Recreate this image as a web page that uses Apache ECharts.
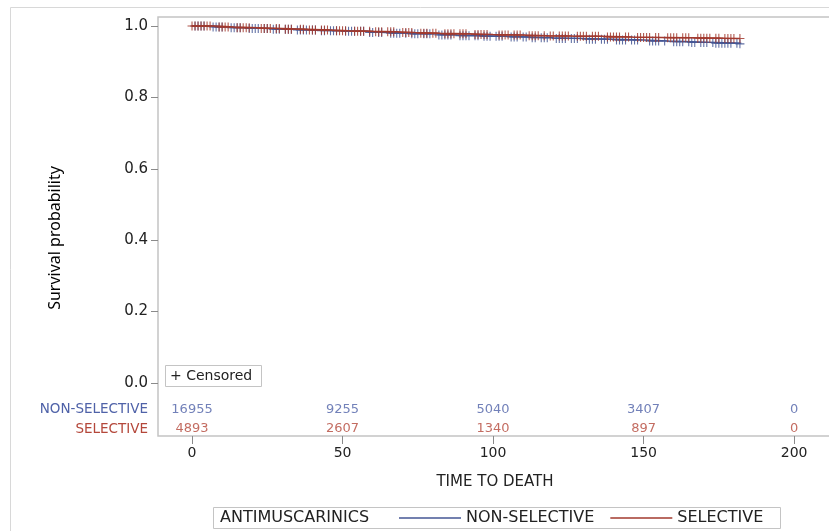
<!DOCTYPE html>
<html>
<head>
<meta charset="utf-8">
<script src="https://cdn.jsdelivr.net/npm/echarts@6/dist/echarts.min.js"></script>
<style>
html,body{margin:0;padding:0;background:#fff;}
#chart{width:829px;height:531px;}
</style>
</head>
<body>
<div id="chart"></div>
<script>
// ---- data ----
const seriesNames = ['NON-SELECTIVE', 'SELECTIVE'];
const legendTitle = 'ANTIMUSCARINICS';
const yTicks = [0, 0.2, 0.4, 0.6, 0.8, 1.0];
const xTicks = [0, 50, 100, 150, 200];
const riskTimes = [0, 50, 100, 150, 200];
const riskNonSelective = [16955, 9255, 5040, 3407, 0];
const riskSelective = [4893, 2607, 1340, 897, 0];

// Kaplan-Meier step curves (event times, survival after event)
const nonSelTimes = [0, 6, 12, 18, 26, 34, 42, 50, 58, 64, 72, 80, 88, 96, 104, 112, 120, 130, 140, 150, 158, 166, 174, 182];
const nonSelSurv  = [1.0, 0.997, 0.995, 0.993, 0.991, 0.989, 0.987, 0.985, 0.982, 0.980, 0.978, 0.975, 0.973, 0.971, 0.969, 0.967, 0.965, 0.963, 0.961, 0.958, 0.956, 0.954, 0.952, 0.950];
const selTimes = [0, 8, 14, 22, 30, 38, 46, 52, 60, 68, 74, 82, 92, 100, 110, 118, 126, 136, 146, 156, 166, 176, 182];
const selSurv  = [1.0, 0.997, 0.995, 0.993, 0.991, 0.989, 0.987, 0.985, 0.984, 0.982, 0.980, 0.978, 0.976, 0.975, 0.973, 0.972, 0.971, 0.969, 0.968, 0.967, 0.966, 0.965, 0.965];

// censoring times
const nonSelCensored = [1,2,3,4, 7,8,9,10, 13,14,15,16, 19,20,21,22, 24,25,27,28,29, 31,32,33, 35,36,37,38, 40,41,43,44, 46,47,48, 51,52,53,54, 56,57,59,60, 62,63, 66,67,68,69, 71,73,74,75, 77,78,79, 82,83,84,85,86, 89,90,91,92, 94,95,97,98,99, 101,102,103, 106,107,108, 110,111,113,114, 116,117,118, 121,122,123,124, 126,127,128, 131,132,133,134, 136,137,138, 141,142,143,144, 146,147,148, 152,153,154,155, 157, 160,161,162,163, 165,166,167, 169,170,171, 173,174,175,176,177,178,179,181,182];
const selCensored = [0,1,2,3,4,5,6, 9,10,11,12, 15,16,17,18,19, 23,24,25,26, 28,29,31,32,33, 36,37,39,40,41, 43,44,45, 48,49,50,51, 54,55,56,57, 59,61,62,63, 65,66,67, 70,71,72,73, 76,77,78, 80,81, 84,85,86,87, 89,90,91, 94,95,96,97,98, 102,103,104,105, 107,108,109, 112,113,114,115, 117,119,120, 122,123,124,125, 128,129,130,131, 133,134,135, 138,139,140,141,142, 144,145, 148,149,150,151,152, 154,155, 158,159,160,161, 163,164,165, 168,169,170,171,172, 174,175,177,178,179,180,182];

// ---- layout / style constants ----
const BLUE = '#445694';
const RED = '#A23A2E';
const BLUE_TXT = '#4f62a8';
const RED_TXT = '#b4473a';
const FONT = '"DejaVu Sans", "Liberation Sans", Arial, sans-serif';
const ROW_Y = [-0.0756, -0.1289]; // y positions (axis units) of number-at-risk rows

function stepValue(times, surv, t) {
  let v = surv[0];
  for (let i = 0; i < times.length; i++) { if (times[i] <= t) v = surv[i]; else break; }
  return v;
}
const plusPath = 'path://M-0.12,-1L0.12,-1L0.12,-0.12L1,-0.12L1,0.12L0.12,0.12L0.12,1L-0.12,1L-0.12,0.12L-1,0.12L-1,-0.12L-0.12,-0.12Z';

const chart = echarts.init(document.getElementById('chart'), null, {renderer: 'canvas'});

const option = {
  animation: false,
  backgroundColor: '#fff',
  grid: {
    left: 158, top: 17, width: 690, height: 419,
    show: true, borderColor: '#c4c4c4', borderWidth: 1.5,
    containLabel: false, outerBoundsMode: 'none'
  },
  xAxis: {
    type: 'value', min: -11.3, max: 217.9,
    name: 'TIME TO DEATH', nameLocation: 'middle', nameGap: 39,
    nameTextStyle: {fontFamily: FONT, fontSize: 15, color: '#222', padding: [0, 16, 0, 0]},
    axisLine: {show: false, onZero: false},
    splitLine: {show: false},
    axisTick: {show: true, length: 8, customValues: xTicks, lineStyle: {color: '#8a8a8a'}},
    axisLabel: {customValues: xTicks, margin: 10, fontFamily: FONT, fontSize: 14, color: '#222'}
  },
  yAxis: {
    type: 'value', min: -0.1485, max: 1.0252,
    axisLine: {show: false, onZero: false},
    splitLine: {show: false},
    axisTick: {show: true, length: 7, customValues: yTicks, lineStyle: {color: '#8a8a8a'}},
    axisLabel: {
      customValues: yTicks.concat(ROW_Y), margin: 10, fontFamily: FONT, fontSize: 15, color: '#222',
      formatter: function (v) {
        if (Math.abs(v - ROW_Y[0]) < 1e-6) return '{b|' + seriesNames[0] + '}';
        if (Math.abs(v - ROW_Y[1]) < 1e-6) return '{r|' + seriesNames[1] + '}';
        return v.toFixed(1);
      },
      rich: {
        b: {color: BLUE_TXT, fontFamily: FONT, fontSize: 13.5},
        r: {color: RED_TXT, fontFamily: FONT, fontSize: 13.5}
      }
    }
  },
  legend: {
    data: seriesNames,
    left: 399, top: 510,
    icon: 'rect', itemWidth: 62, itemHeight: 1.5, itemGap: 16,
    textStyle: {fontFamily: FONT, fontSize: 16, color: '#222'},
    padding: 0
  },
  graphic: [
    {type: 'rect', shape: {x: 10.5, y: 7.5, width: 830, height: 540}, style: {fill: 'none', stroke: '#d8d8d8', lineWidth: 1}, silent: true, z: -10},
    {type: 'text', x: 55, y: 238, rotation: Math.PI / 2,
      style: {text: 'Survival probability', fontFamily: '"Noto Sans", sans-serif', fontSize: 16, fill: '#000', textAlign: 'center', textVerticalAlign: 'middle'}},
    {type: 'rect', shape: {x: 165.5, y: 365.5, width: 96, height: 21}, style: {fill: '#fff', stroke: '#c4c4c4', lineWidth: 1}},
    {type: 'text', x: 170, y: 376, style: {text: '+ Censored', fontFamily: FONT, fontSize: 14, fill: '#222', textVerticalAlign: 'middle'}},
    {type: 'rect', shape: {x: 213.5, y: 507.5, width: 567, height: 21}, style: {fill: 'none', stroke: '#c4c4c4', lineWidth: 1}},
    {type: 'text', x: 220, y: 518, style: {text: legendTitle, fontFamily: FONT, fontSize: 16, fill: '#222', textVerticalAlign: 'middle'}}
  ],
  series: [
    {
      name: seriesNames[0], type: 'line', step: 'end', showSymbol: false, symbol: 'none',
      data: nonSelTimes.map((t, i) => [t, nonSelSurv[i]]),
      lineStyle: {color: BLUE, width: 1.5}, itemStyle: {color: BLUE}, z: 2
    },
    {
      name: 'nonsel-censor', type: 'scatter', symbol: plusPath, symbolSize: 9,
      data: nonSelCensored.map(t => [t, stepValue(nonSelTimes, nonSelSurv, t)]),
      itemStyle: {color: BLUE, opacity: 0.85}, z: 2
    },
    {
      name: seriesNames[1], type: 'line', step: 'end', showSymbol: false, symbol: 'none',
      data: selTimes.map((t, i) => [t, selSurv[i]]),
      lineStyle: {color: RED, width: 1.5}, itemStyle: {color: RED}, z: 3
    },
    {
      name: 'sel-censor', type: 'scatter', symbol: plusPath, symbolSize: 9,
      data: selCensored.map(t => [t, stepValue(selTimes, selSurv, t)]),
      itemStyle: {color: RED, opacity: 0.85}, z: 3
    },
    {
      name: 'risk-nonsel', type: 'scatter', symbolSize: 0, silent: true,
      data: riskTimes.map((t, i) => [t, ROW_Y[0], riskNonSelective[i]]),
      label: {show: true, position: 'inside', formatter: p => String(p.value[2]), fontFamily: FONT, fontSize: 13, color: BLUE_TXT}
    },
    {
      name: 'risk-sel', type: 'scatter', symbolSize: 0, silent: true,
      data: riskTimes.map((t, i) => [t, ROW_Y[1], riskSelective[i]]),
      label: {show: true, position: 'inside', formatter: p => String(p.value[2]), fontFamily: FONT, fontSize: 13, color: RED_TXT}
    }
  ]
};
chart.setOption(option);
</script>
</body>
</html>
